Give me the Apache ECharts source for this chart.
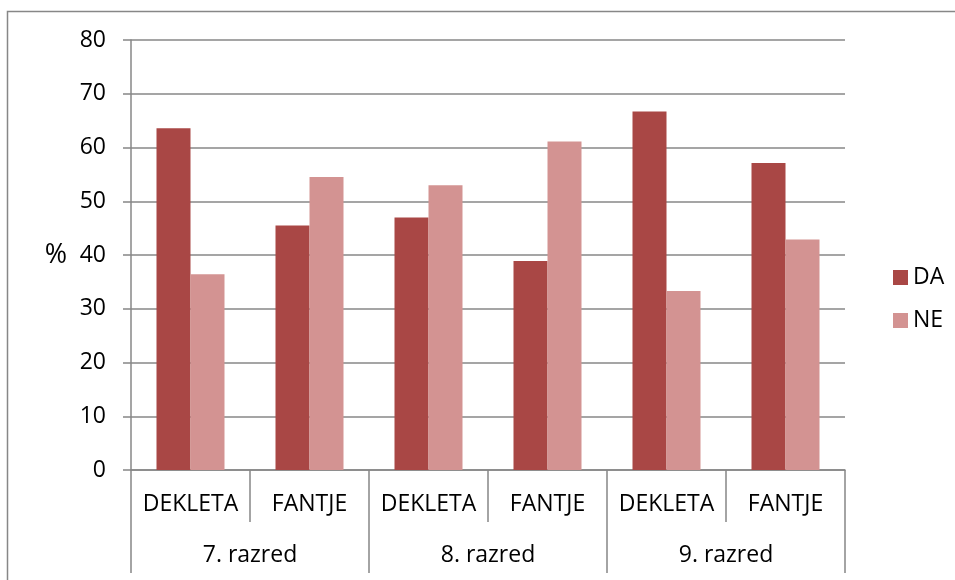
<!DOCTYPE html>
<html>
<head>
<meta charset="utf-8">
<script src="https://cdn.jsdelivr.net/npm/echarts@6/dist/echarts.min.js"></script>
<style>
  html, body { margin: 0; padding: 0; background: #fff; }
  #chart { width: 955px; height: 580px; }
</style>
</head>
<body>
<div id="chart"></div>
<script>
// podatki
var spol = ['DEKLETA', 'FANTJE', 'DEKLETA', 'FANTJE', 'DEKLETA', 'FANTJE'];
var razredi = ['7. razred', '8. razred', '9. razred'];
var daVals = [63.6, 45.5, 47.0, 38.9, 66.7, 57.1];
var neVals = [36.4, 54.5, 53.0, 61.1, 33.3, 42.9];
var yTicks = { min: 0, max: 80, step: 10 };

var gray = '#878787';
var font = 'Open Sans';
var fs = 23;

var chart = echarts.init(document.getElementById('chart'));
var option = {
  animation: false,
  backgroundColor: '#fff',
  textStyle: { fontFamily: font },
  graphic: [{
    type: 'rect',
    shape: { x: 7.5, y: 11.5, width: 960, height: 600 },
    style: { fill: 'none', stroke: gray, lineWidth: 1.5 },
    silent: true
  }],
  grid: { left: 131, right: 110, top: 40, bottom: 110 },
  legend: {
    orient: 'vertical',
    left: 888,
    top: 261,
    itemWidth: 15,
    itemHeight: 15,
    itemGap: 20,
    icon: 'rect',
    textStyle: { fontFamily: font, fontSize: fs, color: '#000' },
    data: ['DA', 'NE']
  },
  xAxis: [{
    type: 'category',
    data: spol,
    position: 'bottom',
    axisLine: { show: true, lineStyle: { color: gray, width: 1.5 } },
    axisTick: { show: true, length: 52, interval: 0, lineStyle: { color: gray, width: 1.5 } },
    axisLabel: { interval: 0, margin: 23, fontSize: fs, color: '#000', fontFamily: font },
    splitLine: { show: false }
  }, {
    type: 'category',
    data: razredi,
    position: 'bottom',
    axisLine: { show: false },
    axisTick: { show: true, length: 103, interval: 0, lineStyle: { color: gray, width: 1.5 } },
    axisLabel: { interval: 0, margin: 74, fontSize: fs, color: '#000', fontFamily: font },
    splitLine: { show: false }
  }],
  yAxis: {
    type: 'value',
    min: yTicks.min,
    max: yTicks.max,
    interval: yTicks.step,
    name: '%',
    nameLocation: 'middle',
    nameRotate: 0,
    nameGap: 64,
    nameTextStyle: { fontSize: 27, color: '#000', fontFamily: font },
    axisLine: { show: true, lineStyle: { color: gray, width: 1.5 } },
    axisTick: { show: true, length: 8, lineStyle: { color: gray, width: 1.5 } },
    axisLabel: { margin: 25, fontSize: fs, color: '#000', fontFamily: font },
    splitLine: { show: true, lineStyle: { color: gray, width: 1.5 } }
  },
  series: [{
    name: 'DA',
    type: 'bar',
    xAxisIndex: 0,
    data: daVals,
    barWidth: 34,
    barGap: '0%',
    itemStyle: { color: '#A94745' }
  }, {
    name: 'NE',
    type: 'bar',
    xAxisIndex: 0,
    data: neVals,
    barWidth: 34,
    barGap: '0%',
    itemStyle: { color: '#D39392' }
  }]
};
chart.setOption(option);
</script>
</body>
</html>
